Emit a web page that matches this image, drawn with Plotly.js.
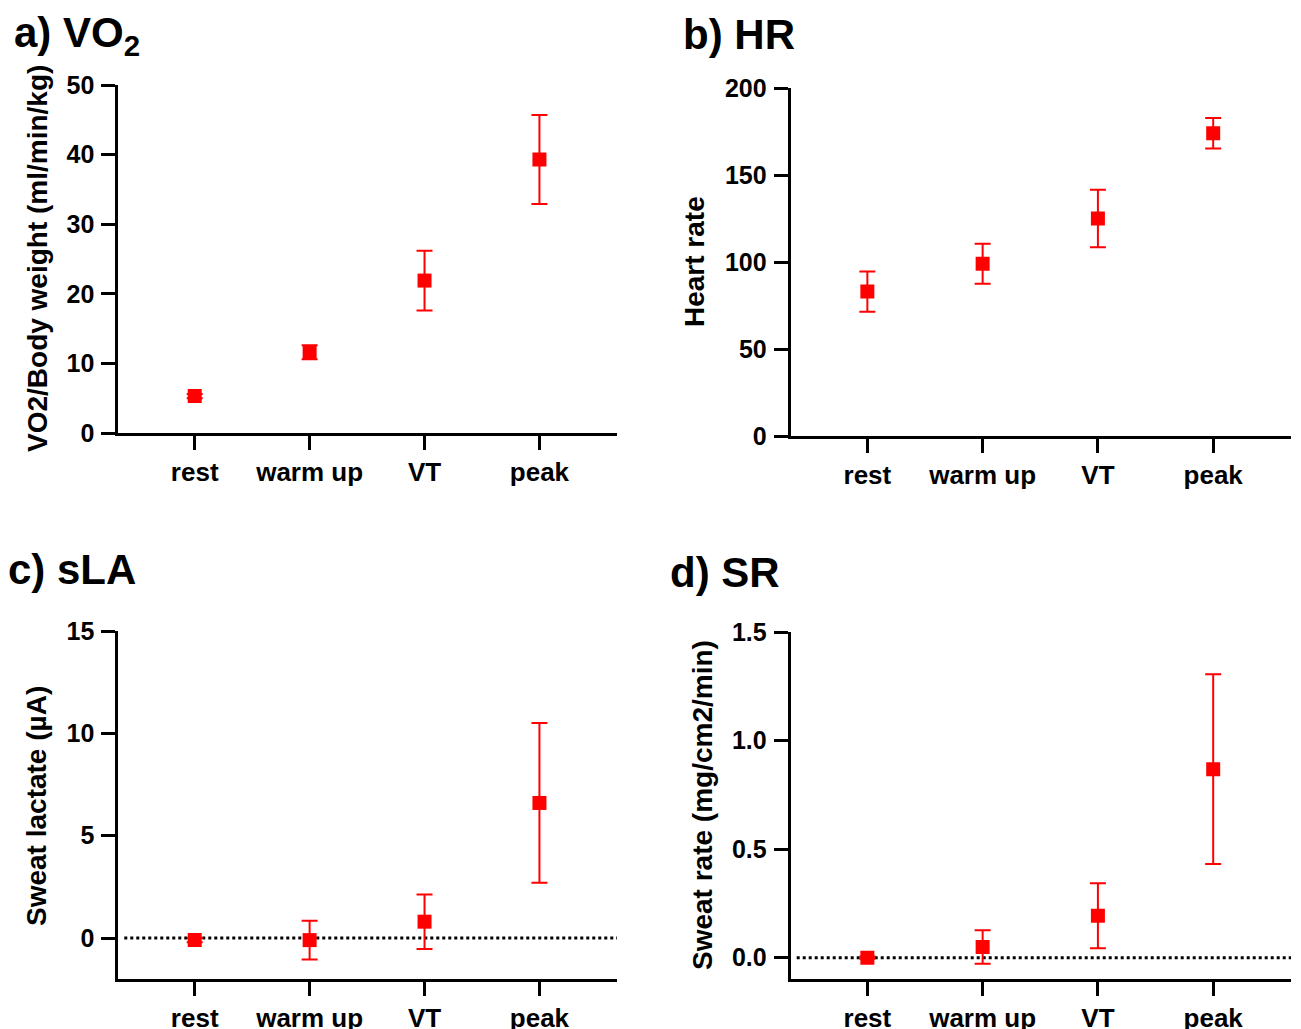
<!DOCTYPE html>
<html>
<head>
<meta charset="utf-8">
<script src="https://cdn.plot.ly/plotly-3.0.1.min.js"></script>
<style>
  html, body { margin: 0; padding: 0; background: #fff; }
  #chart { width: 1301px; height: 1029px; }
</style>
</head>
<body>
<div id="chart"></div>
<script>
// ---- data ----
const categories = ["rest", "warm up", "VT", "peak"];

const vo2Mean = [5.3, 11.6, 21.9, 39.3];
const vo2Err  = [0.3, 1.0, 4.3, 6.4];

const hrMean = [83, 99, 125, 174];
const hrErr  = [11.6, 11.5, 16.5, 8.7];

const slaMean = [-0.1, -0.1, 0.8, 6.6];
const slaErr  = [0.1, 0.95, 1.33, 3.9];

const srMean = [0.0, 0.049, 0.193, 0.868];
const srErr  = [0.005, 0.077, 0.15, 0.437];

const panelTitles = ["a) VO<sub>2</sub>", "b) HR", "c) sLA", "d) SR"];
const yTitles = ["VO2/Body weight (ml/min/kg)", "Heart rate", "Sweat lactate (µA)", "Sweat rate (mg/cm2/min)"];

// ---- styling ----
const RED = "#ff0000";
const FONT = "Liberation Sans, Arial, Helvetica, sans-serif";

function trace(mean, err, xa, ya) {
  return {
    type: "scatter", mode: "markers",
    x: categories, y: mean,
    xaxis: xa, yaxis: ya,
    marker: { symbol: "square", size: 14, color: RED, line: { width: 0 } },
    error_y: { type: "data", array: err, visible: true, color: RED, thickness: 2, width: 8 },
    showlegend: false, hoverinfo: "x+y"
  };
}

const data = [
  trace(vo2Mean, vo2Err, "x", "y"),
  trace(hrMean, hrErr, "x2", "y2"),
  trace(slaMean, slaErr, "x3", "y3"),
  trace(srMean, srErr, "x4", "y4")
];

function xax(domain, anchor) {
  return {
    domain: domain, anchor: anchor,
    type: "category", categoryorder: "array", categoryarray: categories,
    range: [-0.665, 3.675],
    showline: true, linewidth: 3, linecolor: "#000",
    ticks: "outside", ticklen: 14, tickwidth: 3, tickcolor: "#000",
    ticklabelstandoff: 0,
    showgrid: false, zeroline: false, fixedrange: true,
    tickfont: { family: FONT, size: 26, weight: "bold", color: "#000" }
  };
}
function yax(domain, anchor, range, tickvals, fmt) {
  return {
    domain: domain, anchor: anchor,
    range: range, tickvals: tickvals, tickformat: fmt,
    showline: true, linewidth: 3, linecolor: "#000",
    ticks: "outside", ticklen: 14, tickwidth: 3, tickcolor: "#000",
    ticklabelstandoff: 2,
    showgrid: false, zeroline: false, fixedrange: true,
    tickfont: { family: FONT, size: 25, weight: "bold", color: "#000" }
  };
}

const W = 1301, H = 1029;
const xdL = [118.3 / W, 617 / W];
const xdR = [790.7 / W, 1291 / W];

function titleAnn(text, x, y) {
  return { text: text, xref: "paper", yref: "paper", x: x / W, y: 1 - y / H,
    xanchor: "left", yanchor: "middle", showarrow: false,
    font: { family: FONT, size: 42, weight: "bold", color: "#000" } };
}
function yTitleAnn(text, x, y) {
  return { text: text, xref: "paper", yref: "paper", x: x / W, y: 1 - y / H,
    xanchor: "center", yanchor: "middle", textangle: -90, showarrow: false,
    font: { family: FONT, size: 28, weight: "bold", color: "#000" } };
}

const layout = {
  width: W, height: H,
  margin: { l: 0, r: 0, t: 0, b: 0 },
  paper_bgcolor: "#fff", plot_bgcolor: "#fff",
  showlegend: false,
  xaxis:  xax(xdL, "y"),
  yaxis:  yax([1 - 433 / H, 1 - 85 / H], "x", [0, 50], [0, 10, 20, 30, 40, 50], "d"),
  xaxis2: xax(xdR, "y2"),
  yaxis2: yax([1 - 436 / H, 1 - 88 / H], "x2", [0, 200], [0, 50, 100, 150, 200], "d"),
  xaxis3: xax(xdL, "y3"),
  yaxis3: yax([1 - 979 / H, 1 - 631 / H], "x3", [-2, 15], [0, 5, 10, 15], "d"),
  xaxis4: xax(xdR, "y4"),
  yaxis4: yax([1 - 978.7 / H, 1 - 632 / H], "x4", [-0.097, 1.5], [0, 0.5, 1.0, 1.5], ".1f"),
  shapes: [
    { type: "line", xref: "x3 domain", yref: "y3", x0: 0.012, x1: 1, y0: 0, y1: 0,
      line: { color: "#000", width: 3, dash: "dot" }, layer: "below" },
    { type: "line", xref: "x4 domain", yref: "y4", x0: 0.012, x1: 1, y0: 0, y1: 0,
      line: { color: "#000", width: 3, dash: "dot" }, layer: "below" }
  ],
  annotations: [
    titleAnn(panelTitles[0], 12, 36),
    titleAnn(panelTitles[1], 681, 34),
    titleAnn(panelTitles[2], 6, 569),
    titleAnn(panelTitles[3], 668, 572),
    yTitleAnn(yTitles[0], 37, 259),
    yTitleAnn(yTitles[1], 695, 262),
    yTitleAnn(yTitles[2], 36, 806),
    yTitleAnn(yTitles[3], 702, 805)
  ]
};

Plotly.newPlot("chart", data, layout, { displayModeBar: false, staticPlot: true });
</script>
</body>
</html>
